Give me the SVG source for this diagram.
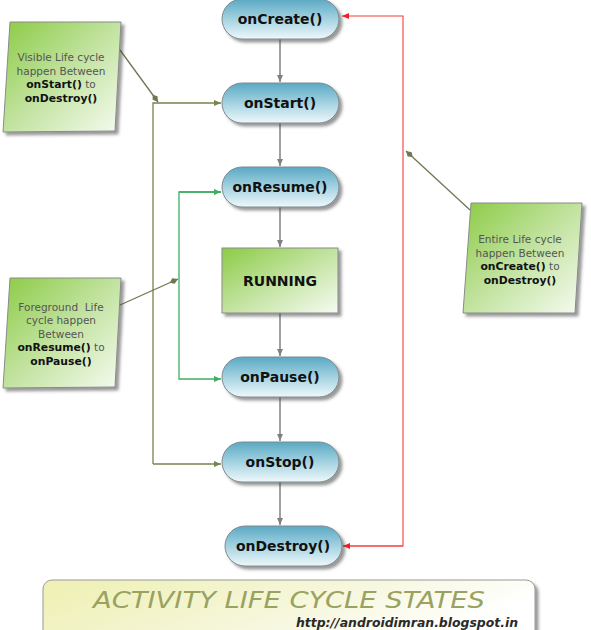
<svg xmlns="http://www.w3.org/2000/svg" width="591" height="630" viewBox="0 0 591 630">
<style>
.pill{stroke:#7f8a8e;stroke-width:1;fill:url(#gPill);filter:url(#sh)}
.note{stroke:#8a8a8a;stroke-width:1;fill:url(#gNote);filter:url(#sh)}
.pt{font-family:"DejaVu Sans",Verdana,sans-serif;font-weight:bold;font-size:14px;fill:#111;text-anchor:middle}
.nt{font-family:"DejaVu Sans",Verdana,sans-serif;font-size:10.5px;fill:#555;text-anchor:middle}
.nb{font-weight:bold;fill:#111;font-size:10.8px}
.gray{stroke:#808080;stroke-width:1.5;fill:none;marker-end:url(#aGray)}
.olive{stroke:#76844f;stroke-width:1.3;fill:none}
.green{stroke:#3fae62;stroke-width:1.3;fill:none}
.red{stroke:#f04040;stroke-width:1.1;fill:none}
.callout{stroke:#6e7852;stroke-width:1.3;fill:none}
</style>
<defs>
<linearGradient id="gPill" x1="0" y1="0" x2="0" y2="1">
<stop offset="0" stop-color="#5aa9c4"/>
<stop offset="0.5" stop-color="#a4d2e1"/>
<stop offset="1" stop-color="#eef8fb"/>
</linearGradient>
<linearGradient id="gNote" x1="0" y1="0" x2="1" y2="1">
<stop offset="0" stop-color="#8ccb45"/>
<stop offset="0.5" stop-color="#c2e3a0"/>
<stop offset="1" stop-color="#f6fbf1"/>
</linearGradient>
<linearGradient id="gTitle" x1="0" y1="0" x2="1" y2="0.3">
<stop offset="0" stop-color="#eef0b2"/>
<stop offset="0.6" stop-color="#f6f7dc"/>
<stop offset="1" stop-color="#ffffff"/>
</linearGradient>
<filter id="sh" x="-10%" y="-10%" width="130%" height="130%">
<feDropShadow dx="3" dy="3" stdDeviation="1.5" flood-color="#444" flood-opacity="0.55"/>
</filter>
<marker id="aGray" markerUnits="userSpaceOnUse" markerWidth="8" markerHeight="8" refX="7" refY="4" orient="auto"><path d="M0,1 L7,4 L0,7 Z" fill="#808080"/></marker>
<marker id="aOlive" markerUnits="userSpaceOnUse" markerWidth="8" markerHeight="8" refX="7" refY="4" orient="auto"><path d="M0,1 L7,4 L0,7 Z" fill="#76844f"/></marker>
<marker id="aGreen" markerUnits="userSpaceOnUse" markerWidth="8" markerHeight="8" refX="7" refY="4" orient="auto"><path d="M0,1 L7,4 L0,7 Z" fill="#3fae62"/></marker>
<marker id="aRed" markerUnits="userSpaceOnUse" markerWidth="8" markerHeight="8" refX="7" refY="4" orient="auto"><path d="M0,1 L7,4 L0,7 Z" fill="#f02020"/></marker>
<marker id="aCall" markerUnits="userSpaceOnUse" markerWidth="10" markerHeight="8" refX="9" refY="4" orient="auto"><path d="M0,4 L4,1 L9,4 L4,7 Z" fill="#6e7852"/></marker>
</defs>

<g id="connectors">
<path class="gray" d="M280,39 V82"/>
<path class="gray" d="M280,123 V166"/>
<path class="gray" d="M280,207 V247"/>
<path class="gray" d="M280,313 V356"/>
<path class="gray" d="M280,397 V441"/>
<path class="gray" d="M280,482 V525"/>
<path class="olive" d="M153,464 V103 H221" marker-end="url(#aOlive)"/>
<path class="olive" d="M153,464 H221" marker-end="url(#aOlive)"/>
<path class="green" d="M221,192 H179 V379 H221" marker-end="url(#aGreen)"/>
<path class="green" d="M179,192 H221" marker-end="url(#aGreen)"/>
<path class="red" d="M343,546 H403 V16 H342" marker-end="url(#aRed)"/>
<path class="red" d="M403,546 H343" marker-end="url(#aRed)"/>
<path class="callout" d="M120,50 L158,102" marker-end="url(#aCall)"/>
<path class="callout" d="M120,305 L178,279" marker-end="url(#aCall)"/>
<path class="callout" d="M470,210 L406,151" marker-end="url(#aCall)"/>
</g>

<g id="onCreate"><rect class="pill" x="222" y="-1" width="117" height="40" rx="20"/><text class="pt" x="280" y="24">onCreate()</text></g>
<g id="onStart"><rect class="pill" x="222" y="83" width="117" height="40" rx="20"/><text class="pt" x="280" y="108">onStart()</text></g>
<g id="onResume"><rect class="pill" x="222" y="167" width="117" height="40" rx="20"/><text class="pt" x="280" y="192">onResume()</text></g>
<g id="running"><rect x="222" y="248" width="116" height="65" fill="url(#gNote)" stroke="#8a8a8a" filter="url(#sh)"/><text class="pt" x="280" y="286">RUNNING</text></g>
<g id="onPause"><rect class="pill" x="222" y="357" width="117" height="40" rx="20"/><text class="pt" x="280" y="382">onPause()</text></g>
<g id="onStop"><rect class="pill" x="222" y="442" width="117" height="40" rx="20"/><text class="pt" x="280" y="467">onStop()</text></g>
<g id="onDestroy"><rect class="pill" x="225" y="526" width="117" height="40" rx="20"/><text class="pt" x="283" y="551">onDestroy()</text></g>

<g id="noteVisible">
<polygon class="note" points="10,22 121,22 115,131 3,132"/>
<text class="nt" x="61" y="61">Visible Life cycle</text>
<text class="nt" x="61" y="75">happen Between</text>
<text class="nt" x="61" y="88"><tspan class="nb">onStart()</tspan> to</text>
<text class="nt" x="61" y="102"><tspan class="nb">onDestroy()</tspan></text>
</g>
<g id="noteForeground">
<polygon class="note" points="10,278 121,278 115,387 3,388"/>
<text class="nt" x="61" y="311" xml:space="preserve">Foreground  Life</text>
<text class="nt" x="61" y="324">cycle happen</text>
<text class="nt" x="61" y="338">Between</text>
<text class="nt" x="61" y="351"><tspan class="nb">onResume()</tspan> to</text>
<text class="nt" x="61" y="365"><tspan class="nb">onPause()</tspan></text>
</g>
<g id="noteEntire">
<polygon class="note" points="471,203 582,203 575,313 463,313"/>
<text class="nt" x="520" y="243">Entire Life cycle</text>
<text class="nt" x="520" y="257">happen Between</text>
<text class="nt" x="520" y="270"><tspan class="nb">onCreate()</tspan> to</text>
<text class="nt" x="520" y="284"><tspan class="nb">onDestroy()</tspan></text>
</g>

<g id="title">
<rect x="43" y="580" width="492" height="62" rx="9" fill="url(#gTitle)" stroke="#9a9a9a" filter="url(#sh)"/>
<text x="93" y="608" font-family="DejaVu Sans,Verdana,sans-serif" font-style="italic" font-size="23" fill="#9aa262" textLength="392" lengthAdjust="spacingAndGlyphs">ACTIVITY LIFE CYCLE STATES</text>
<text x="296" y="627" font-family="DejaVu Sans,Verdana,sans-serif" font-style="italic" font-weight="bold" font-size="12.5" fill="#2a2a2a" textLength="222" lengthAdjust="spacingAndGlyphs">http://androidimran.blogspot.in</text>
</g>
</svg>
